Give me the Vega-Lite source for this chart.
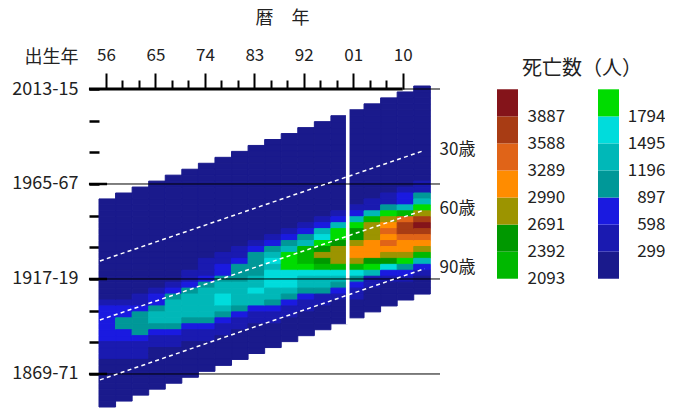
{"$schema":"https://vega.github.io/schema/vega-lite/v6.json","background":"white","padding":{"left":11,"top":9,"right":0,"bottom":0},"bounds":"flush","spacing":57,"config":{"view":{"stroke":null}},"datasets":{"cells":[
{"p":1956,"c":1956,"v":150},{"p":1956,"c":1953,"v":150},{"p":1956,"c":1950,"v":150},{"p":1956,"c":1947,"v":150},{"p":1956,"c":1944,"v":150},{"p":1956,"c":1941,"v":150},{"p":1956,"c":1938,"v":150},{"p":1956,"c":1935,"v":150},{"p":1956,"c":1932,"v":150},{"p":1956,"c":1929,"v":150},{"p":1956,"c":1926,"v":150},{"p":1956,"c":1923,"v":150},{"p":1956,"c":1920,"v":150},{"p":1956,"c":1917,"v":150},{"p":1956,"c":1914,"v":150},{"p":1956,"c":1911,"v":150},{"p":1956,"c":1908,"v":150},{"p":1956,"c":1905,"v":450},{"p":1956,"c":1902,"v":750},{"p":1956,"c":1899,"v":750},{"p":1956,"c":1896,"v":750},{"p":1956,"c":1893,"v":750},{"p":1956,"c":1890,"v":750},{"p":1956,"c":1887,"v":750},{"p":1956,"c":1884,"v":450},{"p":1956,"c":1881,"v":450},{"p":1956,"c":1878,"v":450},{"p":1956,"c":1875,"v":150},{"p":1956,"c":1872,"v":150},{"p":1956,"c":1869,"v":150},{"p":1956,"c":1866,"v":150},{"p":1956,"c":1863,"v":150},{"p":1956,"c":1860,"v":150},{"p":1956,"c":1857,"v":150},{"p":1956,"c":1854,"v":150},
{"p":1959,"c":1959,"v":150},{"p":1959,"c":1956,"v":150},{"p":1959,"c":1953,"v":150},{"p":1959,"c":1950,"v":150},{"p":1959,"c":1947,"v":150},{"p":1959,"c":1944,"v":150},{"p":1959,"c":1941,"v":150},{"p":1959,"c":1938,"v":150},{"p":1959,"c":1935,"v":150},{"p":1959,"c":1932,"v":150},{"p":1959,"c":1929,"v":150},{"p":1959,"c":1926,"v":150},{"p":1959,"c":1923,"v":150},{"p":1959,"c":1920,"v":150},{"p":1959,"c":1917,"v":150},{"p":1959,"c":1914,"v":150},{"p":1959,"c":1911,"v":150},{"p":1959,"c":1908,"v":150},{"p":1959,"c":1905,"v":450},{"p":1959,"c":1902,"v":750},{"p":1959,"c":1899,"v":750},{"p":1959,"c":1896,"v":1050},{"p":1959,"c":1893,"v":1050},{"p":1959,"c":1890,"v":750},{"p":1959,"c":1887,"v":750},{"p":1959,"c":1884,"v":450},{"p":1959,"c":1881,"v":450},{"p":1959,"c":1878,"v":450},{"p":1959,"c":1875,"v":150},{"p":1959,"c":1872,"v":150},{"p":1959,"c":1869,"v":150},{"p":1959,"c":1866,"v":150},{"p":1959,"c":1863,"v":150},{"p":1959,"c":1860,"v":150},{"p":1959,"c":1857,"v":150},
{"p":1962,"c":1962,"v":150},{"p":1962,"c":1959,"v":150},{"p":1962,"c":1956,"v":150},{"p":1962,"c":1953,"v":150},{"p":1962,"c":1950,"v":150},{"p":1962,"c":1947,"v":150},{"p":1962,"c":1944,"v":150},{"p":1962,"c":1941,"v":150},{"p":1962,"c":1938,"v":150},{"p":1962,"c":1935,"v":150},{"p":1962,"c":1932,"v":150},{"p":1962,"c":1929,"v":150},{"p":1962,"c":1926,"v":150},{"p":1962,"c":1923,"v":150},{"p":1962,"c":1920,"v":150},{"p":1962,"c":1917,"v":150},{"p":1962,"c":1914,"v":150},{"p":1962,"c":1911,"v":150},{"p":1962,"c":1908,"v":450},{"p":1962,"c":1905,"v":450},{"p":1962,"c":1902,"v":750},{"p":1962,"c":1899,"v":1050},{"p":1962,"c":1896,"v":1050},{"p":1962,"c":1893,"v":1050},{"p":1962,"c":1890,"v":1050},{"p":1962,"c":1887,"v":750},{"p":1962,"c":1884,"v":450},{"p":1962,"c":1881,"v":450},{"p":1962,"c":1878,"v":450},{"p":1962,"c":1875,"v":150},{"p":1962,"c":1872,"v":150},{"p":1962,"c":1869,"v":150},{"p":1962,"c":1866,"v":150},{"p":1962,"c":1863,"v":150},{"p":1962,"c":1860,"v":150},
{"p":1965,"c":1965,"v":150},{"p":1965,"c":1962,"v":150},{"p":1965,"c":1959,"v":150},{"p":1965,"c":1956,"v":150},{"p":1965,"c":1953,"v":150},{"p":1965,"c":1950,"v":150},{"p":1965,"c":1947,"v":150},{"p":1965,"c":1944,"v":150},{"p":1965,"c":1941,"v":150},{"p":1965,"c":1938,"v":150},{"p":1965,"c":1935,"v":150},{"p":1965,"c":1932,"v":150},{"p":1965,"c":1929,"v":150},{"p":1965,"c":1926,"v":150},{"p":1965,"c":1923,"v":150},{"p":1965,"c":1920,"v":150},{"p":1965,"c":1917,"v":150},{"p":1965,"c":1914,"v":150},{"p":1965,"c":1911,"v":450},{"p":1965,"c":1908,"v":750},{"p":1965,"c":1905,"v":750},{"p":1965,"c":1902,"v":1050},{"p":1965,"c":1899,"v":1350},{"p":1965,"c":1896,"v":1350},{"p":1965,"c":1893,"v":1050},{"p":1965,"c":1890,"v":750},{"p":1965,"c":1887,"v":450},{"p":1965,"c":1884,"v":450},{"p":1965,"c":1881,"v":150},{"p":1965,"c":1878,"v":150},{"p":1965,"c":1875,"v":150},{"p":1965,"c":1872,"v":150},{"p":1965,"c":1869,"v":150},{"p":1965,"c":1866,"v":150},{"p":1965,"c":1863,"v":150},
{"p":1968,"c":1968,"v":150},{"p":1968,"c":1965,"v":150},{"p":1968,"c":1962,"v":150},{"p":1968,"c":1959,"v":150},{"p":1968,"c":1956,"v":150},{"p":1968,"c":1953,"v":150},{"p":1968,"c":1950,"v":150},{"p":1968,"c":1947,"v":150},{"p":1968,"c":1944,"v":150},{"p":1968,"c":1941,"v":150},{"p":1968,"c":1938,"v":150},{"p":1968,"c":1935,"v":150},{"p":1968,"c":1932,"v":150},{"p":1968,"c":1929,"v":150},{"p":1968,"c":1926,"v":150},{"p":1968,"c":1923,"v":150},{"p":1968,"c":1920,"v":150},{"p":1968,"c":1917,"v":150},{"p":1968,"c":1914,"v":450},{"p":1968,"c":1911,"v":750},{"p":1968,"c":1908,"v":1050},{"p":1968,"c":1905,"v":1350},{"p":1968,"c":1902,"v":1350},{"p":1968,"c":1899,"v":1350},{"p":1968,"c":1896,"v":1350},{"p":1968,"c":1893,"v":1050},{"p":1968,"c":1890,"v":750},{"p":1968,"c":1887,"v":450},{"p":1968,"c":1884,"v":450},{"p":1968,"c":1881,"v":150},{"p":1968,"c":1878,"v":150},{"p":1968,"c":1875,"v":150},{"p":1968,"c":1872,"v":150},{"p":1968,"c":1869,"v":150},{"p":1968,"c":1866,"v":150},
{"p":1971,"c":1971,"v":150},{"p":1971,"c":1968,"v":150},{"p":1971,"c":1965,"v":150},{"p":1971,"c":1962,"v":150},{"p":1971,"c":1959,"v":150},{"p":1971,"c":1956,"v":150},{"p":1971,"c":1953,"v":150},{"p":1971,"c":1950,"v":150},{"p":1971,"c":1947,"v":150},{"p":1971,"c":1944,"v":150},{"p":1971,"c":1941,"v":150},{"p":1971,"c":1938,"v":150},{"p":1971,"c":1935,"v":150},{"p":1971,"c":1932,"v":150},{"p":1971,"c":1929,"v":150},{"p":1971,"c":1926,"v":150},{"p":1971,"c":1923,"v":150},{"p":1971,"c":1920,"v":450},{"p":1971,"c":1917,"v":450},{"p":1971,"c":1914,"v":750},{"p":1971,"c":1911,"v":1050},{"p":1971,"c":1908,"v":1350},{"p":1971,"c":1905,"v":1350},{"p":1971,"c":1902,"v":1350},{"p":1971,"c":1899,"v":1350},{"p":1971,"c":1896,"v":1050},{"p":1971,"c":1893,"v":750},{"p":1971,"c":1890,"v":450},{"p":1971,"c":1887,"v":450},{"p":1971,"c":1884,"v":150},{"p":1971,"c":1881,"v":150},{"p":1971,"c":1878,"v":150},{"p":1971,"c":1875,"v":150},{"p":1971,"c":1872,"v":150},{"p":1971,"c":1869,"v":150},
{"p":1974,"c":1974,"v":150},{"p":1974,"c":1971,"v":150},{"p":1974,"c":1968,"v":150},{"p":1974,"c":1965,"v":150},{"p":1974,"c":1962,"v":150},{"p":1974,"c":1959,"v":150},{"p":1974,"c":1956,"v":150},{"p":1974,"c":1953,"v":150},{"p":1974,"c":1950,"v":150},{"p":1974,"c":1947,"v":150},{"p":1974,"c":1944,"v":150},{"p":1974,"c":1941,"v":150},{"p":1974,"c":1938,"v":150},{"p":1974,"c":1935,"v":150},{"p":1974,"c":1932,"v":150},{"p":1974,"c":1929,"v":150},{"p":1974,"c":1926,"v":450},{"p":1974,"c":1923,"v":450},{"p":1974,"c":1920,"v":450},{"p":1974,"c":1917,"v":750},{"p":1974,"c":1914,"v":1050},{"p":1974,"c":1911,"v":1350},{"p":1974,"c":1908,"v":1350},{"p":1974,"c":1905,"v":1350},{"p":1974,"c":1902,"v":1350},{"p":1974,"c":1899,"v":1350},{"p":1974,"c":1896,"v":1050},{"p":1974,"c":1893,"v":750},{"p":1974,"c":1890,"v":450},{"p":1974,"c":1887,"v":450},{"p":1974,"c":1884,"v":150},{"p":1974,"c":1881,"v":150},{"p":1974,"c":1878,"v":150},{"p":1974,"c":1875,"v":150},{"p":1974,"c":1872,"v":150},
{"p":1977,"c":1977,"v":150},{"p":1977,"c":1974,"v":150},{"p":1977,"c":1971,"v":150},{"p":1977,"c":1968,"v":150},{"p":1977,"c":1965,"v":150},{"p":1977,"c":1962,"v":150},{"p":1977,"c":1959,"v":150},{"p":1977,"c":1956,"v":150},{"p":1977,"c":1953,"v":150},{"p":1977,"c":1950,"v":150},{"p":1977,"c":1947,"v":150},{"p":1977,"c":1944,"v":150},{"p":1977,"c":1941,"v":150},{"p":1977,"c":1938,"v":150},{"p":1977,"c":1935,"v":150},{"p":1977,"c":1932,"v":150},{"p":1977,"c":1929,"v":450},{"p":1977,"c":1926,"v":450},{"p":1977,"c":1923,"v":750},{"p":1977,"c":1920,"v":750},{"p":1977,"c":1917,"v":1050},{"p":1977,"c":1914,"v":1350},{"p":1977,"c":1911,"v":1350},{"p":1977,"c":1908,"v":1650},{"p":1977,"c":1905,"v":1650},{"p":1977,"c":1902,"v":1350},{"p":1977,"c":1899,"v":1050},{"p":1977,"c":1896,"v":750},{"p":1977,"c":1893,"v":450},{"p":1977,"c":1890,"v":450},{"p":1977,"c":1887,"v":150},{"p":1977,"c":1884,"v":150},{"p":1977,"c":1881,"v":150},{"p":1977,"c":1878,"v":150},{"p":1977,"c":1875,"v":150},
{"p":1980,"c":1980,"v":150},{"p":1980,"c":1977,"v":150},{"p":1980,"c":1974,"v":150},{"p":1980,"c":1971,"v":150},{"p":1980,"c":1968,"v":150},{"p":1980,"c":1965,"v":150},{"p":1980,"c":1962,"v":150},{"p":1980,"c":1959,"v":150},{"p":1980,"c":1956,"v":150},{"p":1980,"c":1953,"v":150},{"p":1980,"c":1950,"v":150},{"p":1980,"c":1947,"v":150},{"p":1980,"c":1944,"v":150},{"p":1980,"c":1941,"v":150},{"p":1980,"c":1938,"v":150},{"p":1980,"c":1935,"v":150},{"p":1980,"c":1932,"v":450},{"p":1980,"c":1929,"v":450},{"p":1980,"c":1926,"v":750},{"p":1980,"c":1923,"v":1050},{"p":1980,"c":1920,"v":1050},{"p":1980,"c":1917,"v":1050},{"p":1980,"c":1914,"v":1350},{"p":1980,"c":1911,"v":1350},{"p":1980,"c":1908,"v":1350},{"p":1980,"c":1905,"v":1350},{"p":1980,"c":1902,"v":1050},{"p":1980,"c":1899,"v":750},{"p":1980,"c":1896,"v":450},{"p":1980,"c":1893,"v":450},{"p":1980,"c":1890,"v":150},{"p":1980,"c":1887,"v":150},{"p":1980,"c":1884,"v":150},{"p":1980,"c":1881,"v":150},{"p":1980,"c":1878,"v":150},
{"p":1983,"c":1983,"v":150},{"p":1983,"c":1980,"v":150},{"p":1983,"c":1977,"v":150},{"p":1983,"c":1974,"v":150},{"p":1983,"c":1971,"v":150},{"p":1983,"c":1968,"v":150},{"p":1983,"c":1965,"v":150},{"p":1983,"c":1962,"v":150},{"p":1983,"c":1959,"v":150},{"p":1983,"c":1956,"v":150},{"p":1983,"c":1953,"v":150},{"p":1983,"c":1950,"v":150},{"p":1983,"c":1947,"v":150},{"p":1983,"c":1944,"v":150},{"p":1983,"c":1941,"v":150},{"p":1983,"c":1938,"v":150},{"p":1983,"c":1935,"v":450},{"p":1983,"c":1932,"v":750},{"p":1983,"c":1929,"v":1050},{"p":1983,"c":1926,"v":1050},{"p":1983,"c":1923,"v":1050},{"p":1983,"c":1920,"v":1050},{"p":1983,"c":1917,"v":1350},{"p":1983,"c":1914,"v":1350},{"p":1983,"c":1911,"v":1650},{"p":1983,"c":1908,"v":1350},{"p":1983,"c":1905,"v":1350},{"p":1983,"c":1902,"v":750},{"p":1983,"c":1899,"v":450},{"p":1983,"c":1896,"v":450},{"p":1983,"c":1893,"v":150},{"p":1983,"c":1890,"v":150},{"p":1983,"c":1887,"v":150},{"p":1983,"c":1884,"v":150},{"p":1983,"c":1881,"v":150},
{"p":1986,"c":1986,"v":150},{"p":1986,"c":1983,"v":150},{"p":1986,"c":1980,"v":150},{"p":1986,"c":1977,"v":150},{"p":1986,"c":1974,"v":150},{"p":1986,"c":1971,"v":150},{"p":1986,"c":1968,"v":150},{"p":1986,"c":1965,"v":150},{"p":1986,"c":1962,"v":150},{"p":1986,"c":1959,"v":150},{"p":1986,"c":1956,"v":150},{"p":1986,"c":1953,"v":150},{"p":1986,"c":1950,"v":150},{"p":1986,"c":1947,"v":150},{"p":1986,"c":1944,"v":150},{"p":1986,"c":1941,"v":150},{"p":1986,"c":1938,"v":450},{"p":1986,"c":1935,"v":750},{"p":1986,"c":1932,"v":1050},{"p":1986,"c":1929,"v":1350},{"p":1986,"c":1926,"v":1650},{"p":1986,"c":1923,"v":1350},{"p":1986,"c":1920,"v":1650},{"p":1986,"c":1917,"v":1650},{"p":1986,"c":1914,"v":1650},{"p":1986,"c":1911,"v":1350},{"p":1986,"c":1908,"v":1350},{"p":1986,"c":1905,"v":1050},{"p":1986,"c":1902,"v":750},{"p":1986,"c":1899,"v":450},{"p":1986,"c":1896,"v":450},{"p":1986,"c":1893,"v":150},{"p":1986,"c":1890,"v":150},{"p":1986,"c":1887,"v":150},{"p":1986,"c":1884,"v":150},
{"p":1989,"c":1989,"v":150},{"p":1989,"c":1986,"v":150},{"p":1989,"c":1983,"v":150},{"p":1989,"c":1980,"v":150},{"p":1989,"c":1977,"v":150},{"p":1989,"c":1974,"v":150},{"p":1989,"c":1971,"v":150},{"p":1989,"c":1968,"v":150},{"p":1989,"c":1965,"v":150},{"p":1989,"c":1962,"v":150},{"p":1989,"c":1959,"v":150},{"p":1989,"c":1956,"v":150},{"p":1989,"c":1953,"v":150},{"p":1989,"c":1950,"v":150},{"p":1989,"c":1947,"v":150},{"p":1989,"c":1944,"v":150},{"p":1989,"c":1941,"v":450},{"p":1989,"c":1938,"v":750},{"p":1989,"c":1935,"v":1050},{"p":1989,"c":1932,"v":1350},{"p":1989,"c":1929,"v":1950},{"p":1989,"c":1926,"v":1950},{"p":1989,"c":1923,"v":1950},{"p":1989,"c":1920,"v":1650},{"p":1989,"c":1917,"v":1650},{"p":1989,"c":1914,"v":1650},{"p":1989,"c":1911,"v":1350},{"p":1989,"c":1908,"v":1050},{"p":1989,"c":1905,"v":750},{"p":1989,"c":1902,"v":450},{"p":1989,"c":1899,"v":450},{"p":1989,"c":1896,"v":150},{"p":1989,"c":1893,"v":150},{"p":1989,"c":1890,"v":150},{"p":1989,"c":1887,"v":150},
{"p":1992,"c":1992,"v":150},{"p":1992,"c":1989,"v":150},{"p":1992,"c":1986,"v":150},{"p":1992,"c":1983,"v":150},{"p":1992,"c":1980,"v":150},{"p":1992,"c":1977,"v":150},{"p":1992,"c":1974,"v":150},{"p":1992,"c":1971,"v":150},{"p":1992,"c":1968,"v":150},{"p":1992,"c":1965,"v":150},{"p":1992,"c":1962,"v":150},{"p":1992,"c":1959,"v":150},{"p":1992,"c":1956,"v":150},{"p":1992,"c":1953,"v":150},{"p":1992,"c":1950,"v":150},{"p":1992,"c":1947,"v":150},{"p":1992,"c":1944,"v":450},{"p":1992,"c":1941,"v":750},{"p":1992,"c":1938,"v":1050},{"p":1992,"c":1935,"v":1350},{"p":1992,"c":1932,"v":2250},{"p":1992,"c":1929,"v":2250},{"p":1992,"c":1926,"v":2250},{"p":1992,"c":1923,"v":1950},{"p":1992,"c":1920,"v":1650},{"p":1992,"c":1917,"v":1350},{"p":1992,"c":1914,"v":1350},{"p":1992,"c":1911,"v":1050},{"p":1992,"c":1908,"v":750},{"p":1992,"c":1905,"v":450},{"p":1992,"c":1902,"v":450},{"p":1992,"c":1899,"v":150},{"p":1992,"c":1896,"v":150},{"p":1992,"c":1893,"v":150},{"p":1992,"c":1890,"v":150},
{"p":1995,"c":1995,"v":150},{"p":1995,"c":1992,"v":150},{"p":1995,"c":1989,"v":150},{"p":1995,"c":1986,"v":150},{"p":1995,"c":1983,"v":150},{"p":1995,"c":1980,"v":150},{"p":1995,"c":1977,"v":150},{"p":1995,"c":1974,"v":150},{"p":1995,"c":1971,"v":150},{"p":1995,"c":1968,"v":150},{"p":1995,"c":1965,"v":150},{"p":1995,"c":1962,"v":150},{"p":1995,"c":1959,"v":150},{"p":1995,"c":1956,"v":150},{"p":1995,"c":1953,"v":150},{"p":1995,"c":1950,"v":150},{"p":1995,"c":1947,"v":450},{"p":1995,"c":1944,"v":750},{"p":1995,"c":1941,"v":1350},{"p":1995,"c":1938,"v":1650},{"p":1995,"c":1935,"v":1950},{"p":1995,"c":1932,"v":2550},{"p":1995,"c":1929,"v":2850},{"p":1995,"c":1926,"v":2550},{"p":1995,"c":1923,"v":2250},{"p":1995,"c":1920,"v":1650},{"p":1995,"c":1917,"v":1350},{"p":1995,"c":1914,"v":1350},{"p":1995,"c":1911,"v":1050},{"p":1995,"c":1908,"v":450},{"p":1995,"c":1905,"v":450},{"p":1995,"c":1902,"v":150},{"p":1995,"c":1899,"v":150},{"p":1995,"c":1896,"v":150},{"p":1995,"c":1893,"v":150},
{"p":1998,"c":1998,"v":150},{"p":1998,"c":1995,"v":150},{"p":1998,"c":1992,"v":150},{"p":1998,"c":1989,"v":150},{"p":1998,"c":1986,"v":150},{"p":1998,"c":1983,"v":150},{"p":1998,"c":1980,"v":150},{"p":1998,"c":1977,"v":150},{"p":1998,"c":1974,"v":150},{"p":1998,"c":1971,"v":150},{"p":1998,"c":1968,"v":150},{"p":1998,"c":1965,"v":150},{"p":1998,"c":1962,"v":150},{"p":1998,"c":1959,"v":150},{"p":1998,"c":1956,"v":150},{"p":1998,"c":1953,"v":150},{"p":1998,"c":1950,"v":450},{"p":1998,"c":1947,"v":750},{"p":1998,"c":1944,"v":1350},{"p":1998,"c":1941,"v":1950},{"p":1998,"c":1938,"v":1950},{"p":1998,"c":1935,"v":2550},{"p":1998,"c":1932,"v":2850},{"p":1998,"c":1929,"v":2850},{"p":1998,"c":1926,"v":2850},{"p":1998,"c":1923,"v":2250},{"p":1998,"c":1920,"v":1650},{"p":1998,"c":1917,"v":1350},{"p":1998,"c":1914,"v":1050},{"p":1998,"c":1911,"v":750},{"p":1998,"c":1908,"v":450},{"p":1998,"c":1905,"v":150},{"p":1998,"c":1902,"v":150},{"p":1998,"c":1899,"v":150},{"p":1998,"c":1896,"v":150},
{"p":2001,"c":2001,"v":150},{"p":2001,"c":1998,"v":150},{"p":2001,"c":1995,"v":150},{"p":2001,"c":1992,"v":150},{"p":2001,"c":1989,"v":150},{"p":2001,"c":1986,"v":150},{"p":2001,"c":1983,"v":150},{"p":2001,"c":1980,"v":150},{"p":2001,"c":1977,"v":150},{"p":2001,"c":1974,"v":150},{"p":2001,"c":1971,"v":150},{"p":2001,"c":1968,"v":150},{"p":2001,"c":1965,"v":150},{"p":2001,"c":1962,"v":150},{"p":2001,"c":1959,"v":150},{"p":2001,"c":1956,"v":150},{"p":2001,"c":1953,"v":450},{"p":2001,"c":1950,"v":750},{"p":2001,"c":1947,"v":1350},{"p":2001,"c":1944,"v":1950},{"p":2001,"c":1941,"v":2550},{"p":2001,"c":1938,"v":2550},{"p":2001,"c":1935,"v":2850},{"p":2001,"c":1932,"v":3150},{"p":2001,"c":1929,"v":3150},{"p":2001,"c":1926,"v":2850},{"p":2001,"c":1923,"v":2250},{"p":2001,"c":1920,"v":1650},{"p":2001,"c":1917,"v":1050},{"p":2001,"c":1914,"v":750},{"p":2001,"c":1911,"v":450},{"p":2001,"c":1908,"v":450},{"p":2001,"c":1905,"v":150},{"p":2001,"c":1902,"v":150},{"p":2001,"c":1899,"v":150},
{"p":2004,"c":2004,"v":150},{"p":2004,"c":2001,"v":150},{"p":2004,"c":1998,"v":150},{"p":2004,"c":1995,"v":150},{"p":2004,"c":1992,"v":150},{"p":2004,"c":1989,"v":150},{"p":2004,"c":1986,"v":150},{"p":2004,"c":1983,"v":150},{"p":2004,"c":1980,"v":150},{"p":2004,"c":1977,"v":150},{"p":2004,"c":1974,"v":150},{"p":2004,"c":1971,"v":150},{"p":2004,"c":1968,"v":150},{"p":2004,"c":1965,"v":150},{"p":2004,"c":1962,"v":150},{"p":2004,"c":1959,"v":150},{"p":2004,"c":1956,"v":450},{"p":2004,"c":1953,"v":450},{"p":2004,"c":1950,"v":1350},{"p":2004,"c":1947,"v":2250},{"p":2004,"c":1944,"v":2850},{"p":2004,"c":1941,"v":2850},{"p":2004,"c":1938,"v":2850},{"p":2004,"c":1935,"v":3150},{"p":2004,"c":1932,"v":3150},{"p":2004,"c":1929,"v":3150},{"p":2004,"c":1926,"v":2550},{"p":2004,"c":1923,"v":1950},{"p":2004,"c":1920,"v":1350},{"p":2004,"c":1917,"v":450},{"p":2004,"c":1914,"v":450},{"p":2004,"c":1911,"v":150},{"p":2004,"c":1908,"v":150},{"p":2004,"c":1905,"v":150},{"p":2004,"c":1902,"v":150},
{"p":2007,"c":2007,"v":150},{"p":2007,"c":2004,"v":150},{"p":2007,"c":2001,"v":150},{"p":2007,"c":1998,"v":150},{"p":2007,"c":1995,"v":150},{"p":2007,"c":1992,"v":150},{"p":2007,"c":1989,"v":150},{"p":2007,"c":1986,"v":150},{"p":2007,"c":1983,"v":150},{"p":2007,"c":1980,"v":150},{"p":2007,"c":1977,"v":150},{"p":2007,"c":1974,"v":150},{"p":2007,"c":1971,"v":150},{"p":2007,"c":1968,"v":150},{"p":2007,"c":1965,"v":150},{"p":2007,"c":1962,"v":150},{"p":2007,"c":1959,"v":450},{"p":2007,"c":1956,"v":450},{"p":2007,"c":1953,"v":1050},{"p":2007,"c":1950,"v":1950},{"p":2007,"c":1947,"v":2850},{"p":2007,"c":1944,"v":3150},{"p":2007,"c":1941,"v":3450},{"p":2007,"c":1938,"v":3150},{"p":2007,"c":1935,"v":3450},{"p":2007,"c":1932,"v":3150},{"p":2007,"c":1929,"v":2850},{"p":2007,"c":1926,"v":2550},{"p":2007,"c":1923,"v":1650},{"p":2007,"c":1920,"v":750},{"p":2007,"c":1917,"v":450},{"p":2007,"c":1914,"v":150},{"p":2007,"c":1911,"v":150},{"p":2007,"c":1908,"v":150},{"p":2007,"c":1905,"v":150},
{"p":2010,"c":2010,"v":150},{"p":2010,"c":2007,"v":150},{"p":2010,"c":2004,"v":150},{"p":2010,"c":2001,"v":150},{"p":2010,"c":1998,"v":150},{"p":2010,"c":1995,"v":150},{"p":2010,"c":1992,"v":150},{"p":2010,"c":1989,"v":150},{"p":2010,"c":1986,"v":150},{"p":2010,"c":1983,"v":150},{"p":2010,"c":1980,"v":150},{"p":2010,"c":1977,"v":150},{"p":2010,"c":1974,"v":150},{"p":2010,"c":1971,"v":150},{"p":2010,"c":1968,"v":150},{"p":2010,"c":1965,"v":150},{"p":2010,"c":1962,"v":450},{"p":2010,"c":1959,"v":750},{"p":2010,"c":1956,"v":750},{"p":2010,"c":1953,"v":1350},{"p":2010,"c":1950,"v":2250},{"p":2010,"c":1947,"v":3450},{"p":2010,"c":1944,"v":3750},{"p":2010,"c":1941,"v":3750},{"p":2010,"c":1938,"v":3450},{"p":2010,"c":1935,"v":3150},{"p":2010,"c":1932,"v":3150},{"p":2010,"c":1929,"v":2850},{"p":2010,"c":1926,"v":1950},{"p":2010,"c":1923,"v":1050},{"p":2010,"c":1920,"v":750},{"p":2010,"c":1917,"v":450},{"p":2010,"c":1914,"v":150},{"p":2010,"c":1911,"v":150},{"p":2010,"c":1908,"v":150},
{"p":2013,"c":2013,"v":150},{"p":2013,"c":2010,"v":150},{"p":2013,"c":2007,"v":150},{"p":2013,"c":2004,"v":150},{"p":2013,"c":2001,"v":150},{"p":2013,"c":1998,"v":150},{"p":2013,"c":1995,"v":150},{"p":2013,"c":1992,"v":150},{"p":2013,"c":1989,"v":150},{"p":2013,"c":1986,"v":150},{"p":2013,"c":1983,"v":150},{"p":2013,"c":1980,"v":150},{"p":2013,"c":1977,"v":150},{"p":2013,"c":1974,"v":150},{"p":2013,"c":1971,"v":150},{"p":2013,"c":1968,"v":150},{"p":2013,"c":1965,"v":450},{"p":2013,"c":1962,"v":450},{"p":2013,"c":1959,"v":1050},{"p":2013,"c":1956,"v":1350},{"p":2013,"c":1953,"v":1950},{"p":2013,"c":1950,"v":2850},{"p":2013,"c":1947,"v":3750},{"p":2013,"c":1944,"v":4050},{"p":2013,"c":1941,"v":3750},{"p":2013,"c":1938,"v":3450},{"p":2013,"c":1935,"v":3150},{"p":2013,"c":1932,"v":2850},{"p":2013,"c":1929,"v":2250},{"p":2013,"c":1926,"v":1350},{"p":2013,"c":1923,"v":750},{"p":2013,"c":1920,"v":450},{"p":2013,"c":1917,"v":150},{"p":2013,"c":1914,"v":150},{"p":2013,"c":1911,"v":150}
],"bands":[{"lo":0,"hi":299},{"lo":299,"hi":598},{"lo":598,"hi":897},{"lo":897,"hi":1196},{"lo":1196,"hi":1495},{"lo":1495,"hi":1794},{"lo":1794,"hi":2093},{"lo":2093,"hi":2392},{"lo":2392,"hi":2691},{"lo":2691,"hi":2990},{"lo":2990,"hi":3289},{"lo":3289,"hi":3588},{"lo":3588,"hi":3887},{"lo":3887,"hi":4186}]},
"hconcat":[
{"width":341,"height":321,"resolve":{"scale":{"x":"independent","y":"independent"},"axis":{"x":"independent","y":"independent"}},"layer":[
{"data":{"name":"cells"},"mark":{"type":"rect","strokeWidth":1},"encoding":{
"x":{"field":"p","type":"ordinal","axis":null,"scale":{"range":[0,331.3],"paddingInner":0,"paddingOuter":0,"round":false}},
"y":{"field":"c","type":"ordinal","sort":"descending","axis":null,"scale":{"paddingInner":0,"paddingOuter":0,"round":false}},
"fill":{"field":"v","type":"quantitative","legend":null,"scale":{"type":"threshold","domain":[299,598,897,1196,1495,1794,2093,2392,2691,2990,3289,3588,3887],"range":["#1a1a8c","#1a1ab0","#1a1ae0","#009898","#00b8b8","#00dcdc","#00dc00","#00b800","#009800","#9c9400","#ff8c00","#e06418","#a83c14","#84141a"]}},
"stroke":{"field":"v","type":"quantitative","legend":null,"scale":{"type":"threshold","domain":[299,598,897,1196,1495,1794,2093,2392,2691,2990,3289,3588,3887],"range":["#1a1a8c","#1a1ab0","#1a1ae0","#009898","#00b8b8","#00dcdc","#00dc00","#00b800","#009800","#9c9400","#ff8c00","#e06418","#a83c14","#84141a"]}}}},
{"layer":[
{"data":{"values":[{"yr":2000,"top":2005,"bot":1895}]},"mark":{"type":"rule","color":"white","strokeWidth":3.6},"encoding":{"x":{"field":"yr","type":"quantitative","scale":{"domain":[1954.73,2016.79],"nice":false,"zero":false},
"axis":{"orient":"top","offset":-3,"title":"暦　年","titleFont":"Noto Sans CJK JP","titleFontSize":18,"titleFontWeight":"normal","titleColor":"#222","titleX":183,"titleY":-62,"tickCount":100,"values":[1956,1959,1962,1965,1968,1971,1974,1977,1980,1983,1986,1989,1992,1995,1998,2001,2004,2007,2010],"labelExpr":"(datum.value-1956)%9==0?slice(format(datum.value,'d'),2):''","labelFont":"Noto Sans CJK JP","labelFontSize":17,"labelColor":"#222","labelPadding":9,"labelOverlap":false,"labelFlush":false,"domain":false,"grid":false,"tickColor":"black","tickWidth":2,"tickSize":{"condition":{"test":"(datum.value-1956)%9==0","value":16},"value":9}}},
"y":{"field":"top","type":"quantitative","scale":{"domain":[1853.31,2015.52],"nice":false,"zero":false},
"axis":{"orient":"left","title":"出生年","titleFont":"Noto Sans CJK JP","titleFontSize":18,"titleFontWeight":"normal","titleColor":"#222","titleAngle":0,"titleAlign":"right","titleBaseline":"middle","titleX":-21,"titleY":-29,"tickCount":100,"values":[2014,1998,1982,1966,1950,1934,1918,1902,1886,1870],"labelExpr":"(datum.value-1870)%48==0?(datum.value-1)+'-'+slice(format(datum.value+1,'d'),2):''","labelFont":"Noto Sans CJK JP","labelFontSize":18,"labelColor":"#222","labelPadding":11,"labelOverlap":false,"labelFlush":false,"domain":false,"grid":false,"tickColor":"black","tickWidth":2.5,"tickSize":10}},"y2":{"field":"bot"}}},
{"data":{"values":[{"a":2010,"b":2016.79,"k":2014},{"a":1954.73,"b":2016.79,"k":1966},{"a":1954.73,"b":2016.79,"k":1918},{"a":1954.73,"b":2016.79,"k":1870}]},"mark":{"type":"rule","color":"black","strokeWidth":1,"clip":false},"encoding":{"x":{"field":"a","type":"quantitative"},"x2":{"field":"b"},"y":{"field":"k","type":"quantitative"}}},
{"data":{"values":[{"a":1952.9,"b":2010,"k":2014}]},"mark":{"type":"rule","color":"black","strokeWidth":3,"clip":false},"encoding":{"x":{"field":"a","type":"quantitative"},"x2":{"field":"b"},"y":{"field":"k","type":"quantitative"}}},
{"data":{"values":[{"a":1952.9,"b":1956.2,"k":1966},{"a":1952.9,"b":1956.2,"k":1918},{"a":1952.9,"b":1956.2,"k":1870}]},"mark":{"type":"rule","color":"black","strokeWidth":2.5,"clip":false},"encoding":{"x":{"field":"a","type":"quantitative"},"x2":{"field":"b"},"y":{"field":"k","type":"quantitative"}}},
{"data":{"values":[{"yr":1954.9,"coh":1927.1,"age":30},{"yr":2014,"coh":1983,"age":30},{"yr":1954.9,"coh":1897.3,"age":60},{"yr":2014,"coh":1952.9,"age":60},{"yr":1954.9,"coh":1867,"age":90},{"yr":2014,"coh":1923.2,"age":90}]},"mark":{"type":"line","color":"white","strokeWidth":1.5,"strokeDash":[4,3.3]},"encoding":{"x":{"field":"yr","type":"quantitative"},"y":{"field":"coh","type":"quantitative"},"detail":{"field":"age"}}},
{"data":{"values":[{"yr":2016.7,"coh":1983.2,"t":"30歳"},{"yr":2016.7,"coh":1953.4,"t":"60歳"},{"yr":2016.7,"coh":1923.6,"t":"90歳"}]},"mark":{"type":"text","align":"left","baseline":"middle","fontSize":17,"color":"#222","font":"Noto Sans CJK JP"},"encoding":{"x":{"field":"yr","type":"quantitative"},"y":{"field":"coh","type":"quantitative"},"text":{"field":"t"}}}
]}
]},
{"width":44,"height":321,"title":{"text":"死亡数（人）","font":"Noto Sans CJK JP","fontSize":20,"fontWeight":"normal","color":"#222","anchor":"start","dx":25,"offset":7,"frame":"group"},"data":{"name":"bands"},"transform":[{"filter":"datum.lo>=2093"}],"mark":{"type":"rect","strokeWidth":0},"encoding":{
"x":{"datum":0,"type":"quantitative","axis":null,"scale":{"domain":[0,44],"nice":false}},"x2":{"datum":21},
"y":{"field":"lo","type":"quantitative","scale":{"domain":[676,4222],"nice":false,"zero":false},"axis":{"orient":"right","offset":-14,"title":null,"tickCount":100,"values":[2093,2392,2691,2990,3289,3588,3887],"labelFont":"Noto Sans CJK JP","labelFontSize":17,"labelColor":"#222","labelPadding":0,"labelOverlap":false,"labelFlush":false,"domain":false,"ticks":false,"grid":false,"format":"d"}},"y2":{"field":"hi"},
"fill":{"field":"lo","type":"quantitative","legend":null,"scale":{"type":"threshold","domain":[299,598,897,1196,1495,1794,2093,2392,2691,2990,3289,3588,3887],"range":["#1a1a8c","#1a1ab0","#1a1ae0","#009898","#00b8b8","#00dcdc","#00dc00","#00b800","#009800","#9c9400","#ff8c00","#e06418","#a83c14","#84141a"]}}}},
{"width":21,"height":321,"data":{"name":"bands"},"transform":[{"filter":"datum.lo<2093"}],"mark":{"type":"rect","strokeWidth":0},"encoding":{
"x":{"datum":0,"type":"quantitative","axis":null,"scale":{"domain":[0,21],"nice":false}},"x2":{"datum":21},
"y":{"field":"lo","type":"quantitative","scale":{"domain":[-1417,2129.5],"nice":false,"zero":false},"axis":{"orient":"right","title":null,"tickCount":100,"values":[299,598,897,1196,1495,1794],"labelFont":"Noto Sans CJK JP","labelFontSize":17,"labelColor":"#222","labelAlign":"right","labelPadding":46,"labelOverlap":false,"labelFlush":false,"domain":false,"ticks":false,"grid":false,"format":"d"}},"y2":{"field":"hi"},
"fill":{"field":"lo","type":"quantitative","legend":null,"scale":{"type":"threshold","domain":[299,598,897,1196,1495,1794,2093,2392,2691,2990,3289,3588,3887],"range":["#1a1a8c","#1a1ab0","#1a1ae0","#009898","#00b8b8","#00dcdc","#00dc00","#00b800","#009800","#9c9400","#ff8c00","#e06418","#a83c14","#84141a"]}}}}
]}
